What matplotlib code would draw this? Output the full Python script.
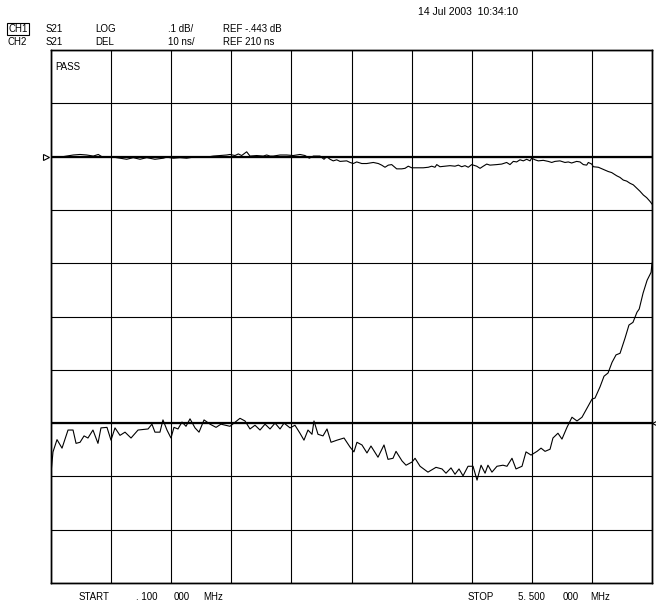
import matplotlib.pyplot as plt
import matplotlib.transforms as mtransforms

# CH1: S21 LOG magnitude (dB)
ch1_freq = [0.100, 0.151, 0.211, 0.300, 0.361, 0.421, 0.480, 0.525, 0.556, 0.630,
            0.720, 0.780, 0.839, 0.900, 0.960, 1.034, 1.109, 1.140, 1.199, 1.259,
            1.319, 1.379, 1.439, 1.499, 1.558, 1.618, 1.679, 1.708, 1.753, 1.783,
            1.813, 1.858, 1.888, 1.948, 2.007, 2.038, 2.068, 2.097, 2.158, 2.218,
            2.277, 2.337, 2.382, 2.421, 2.457, 2.517, 2.553, 2.577, 2.607, 2.636,
            2.667, 2.697, 2.757, 2.787, 2.816, 2.847, 2.892, 2.937, 2.996, 3.041,
            3.071, 3.101, 3.131, 3.161, 3.206, 3.251, 3.281, 3.310, 3.341, 3.386,
            3.445, 3.490, 3.521, 3.550, 3.566, 3.595, 3.640, 3.685, 3.730, 3.760,
            3.790, 3.820, 3.849, 3.880, 3.925, 3.955, 3.984, 4.015, 4.044, 4.105,
            4.150, 4.194, 4.224, 4.254, 4.284, 4.314, 4.344, 4.374, 4.404, 4.419,
            4.449, 4.478, 4.523, 4.568, 4.599, 4.628, 4.673, 4.718, 4.748, 4.778,
            4.823, 4.853, 4.883, 4.913, 4.928, 4.958, 4.973, 5.018, 5.062, 5.107,
            5.138, 5.183, 5.212, 5.242, 5.273, 5.302, 5.332, 5.362, 5.392, 5.422,
            5.452, 5.482, 5.500]
ch1_db = [-0.444, -0.443, -0.443, -0.440, -0.439, -0.440, -0.442, -0.439, -0.443, -0.443,
          -0.446, -0.448, -0.445, -0.448, -0.445, -0.448, -0.446, -0.444, -0.446, -0.445,
          -0.446, -0.444, -0.443, -0.444, -0.442, -0.441, -0.440, -0.439, -0.441, -0.438,
          -0.441, -0.434, -0.442, -0.441, -0.442, -0.440, -0.442, -0.442, -0.440, -0.440,
          -0.441, -0.439, -0.441, -0.446, -0.442, -0.442, -0.448, -0.443, -0.448, -0.451,
          -0.449, -0.452, -0.451, -0.454, -0.456, -0.453, -0.456, -0.456, -0.454, -0.456,
          -0.459, -0.463, -0.459, -0.458, -0.466, -0.466, -0.465, -0.461, -0.464, -0.464,
          -0.464, -0.463, -0.461, -0.463, -0.458, -0.462, -0.461, -0.460, -0.461, -0.459,
          -0.462, -0.460, -0.463, -0.458, -0.461, -0.465, -0.461, -0.457, -0.459, -0.458,
          -0.457, -0.454, -0.458, -0.452, -0.453, -0.449, -0.451, -0.448, -0.451, -0.446,
          -0.449, -0.451, -0.450, -0.452, -0.454, -0.452, -0.451, -0.454, -0.453, -0.455,
          -0.452, -0.453, -0.458, -0.459, -0.454, -0.457, -0.462, -0.463, -0.467, -0.471,
          -0.473, -0.479, -0.482, -0.487, -0.489, -0.493, -0.496, -0.502, -0.508, -0.515,
          -0.520, -0.527, -0.532]

# CH2: S21 group delay (ns)
ch2_freq = [0.100, 0.118, 0.154, 0.199, 0.253, 0.298, 0.325, 0.361, 0.397, 0.432,
            0.477, 0.522, 0.549, 0.603, 0.639, 0.675, 0.720, 0.765, 0.819, 0.882,
            0.972, 1.007, 1.034, 1.079, 1.106, 1.142, 1.178, 1.205, 1.241, 1.277,
            1.313, 1.349, 1.394, 1.430, 1.475, 1.529, 1.583, 1.627, 1.708, 1.744,
            1.798, 1.843, 1.888, 1.933, 1.978, 2.023, 2.068, 2.113, 2.158, 2.194,
            2.248, 2.292, 2.337, 2.373, 2.409, 2.445, 2.463, 2.499, 2.544, 2.580,
            2.616, 2.670, 2.733, 2.787, 2.822, 2.849, 2.894, 2.939, 2.975, 3.038,
            3.092, 3.128, 3.173, 3.200, 3.254, 3.290, 3.344, 3.371, 3.416, 3.487,
            3.559, 3.613, 3.649, 3.694, 3.730, 3.766, 3.802, 3.847, 3.892, 3.928,
            3.964, 4.000, 4.026, 4.062, 4.107, 4.161, 4.197, 4.242, 4.278, 4.332,
            4.368, 4.413, 4.467, 4.503, 4.539, 4.584, 4.610, 4.655, 4.691, 4.736,
            4.781, 4.826, 4.871, 4.916, 4.961, 4.988, 5.033, 5.069, 5.105, 5.141,
            5.177, 5.213, 5.257, 5.293, 5.329, 5.365, 5.385, 5.420, 5.456, 5.492,
            5.500]
ch2_ns = [200.6, 204.6, 206.9, 205.3, 208.7, 208.7, 206.2, 206.4, 207.6, 207.2,
          208.7, 206.2, 209.1, 209.2, 206.8, 209.1, 207.7, 208.3, 207.2, 208.7,
          208.9, 209.8, 208.3, 208.3, 210.6, 208.7, 207.2, 209.2, 208.9, 210.2,
          209.4, 210.8, 209.1, 208.3, 210.6, 209.8, 209.2, 209.8, 209.4, 210.0,
          210.9, 210.4, 208.9, 209.6, 208.7, 209.8, 208.9, 210.0, 208.9, 210.0,
          209.1, 209.6, 208.1, 206.8, 208.7, 207.9, 210.4, 207.9, 207.6, 208.9,
          206.4, 206.8, 207.2, 205.5, 204.6, 206.4, 205.9, 204.4, 205.7, 203.6,
          205.9, 203.2, 203.4, 204.7, 202.9, 202.1, 202.7, 203.4, 201.9, 200.8,
          201.7, 201.4, 200.6, 201.6, 200.4, 201.4, 200.1, 201.9, 201.9, 199.3,
          202.1, 200.6, 202.1, 200.8, 201.9, 202.1, 201.9, 203.4, 201.4, 201.9,
          204.6, 204.0, 204.7, 205.3, 204.7, 205.1, 207.2, 208.1, 207.0, 209.2,
          211.1, 210.4, 211.1, 212.8, 214.5, 214.7, 216.8, 218.8, 219.4, 221.4,
          222.8, 223.1, 225.9, 228.4, 228.9, 230.8, 231.4, 234.4, 236.8, 238.3,
          240.0]

start_mhz, stop_mhz = 0.1, 5.5
ch1_ref, ch1_scale = -0.443, 0.1   # dB, dB/div
ch2_ref, ch2_scale = 210.0, 10.0   # ns, ns/div
ch1_ref_div, ch2_ref_div = 8, 3    # reference line position (div from bottom)
n_div = 10

W, H = 656, 605
fig = plt.figure(figsize=(W / 100, H / 100), dpi=100)
plt.rcParams['font.family'] = ['Liberation Sans', 'DejaVu Sans']


def fx(x):
    return x / W


def fy(y):
    return 1 - y / H


ax = fig.add_axes([fx(51), fy(583), fx(652) - fx(51), fy(50) - fy(583)])
ax2 = ax.twinx()

ax.set_xlim(start_mhz, stop_mhz)
ax.set_ylim(ch1_ref - ch1_ref_div * ch1_scale, ch1_ref + (n_div - ch1_ref_div) * ch1_scale)
ax2.set_ylim(ch2_ref - ch2_ref_div * ch2_scale, ch2_ref + (n_div - ch2_ref_div) * ch2_scale)

step = (stop_mhz - start_mhz) / n_div
ax.set_xticks([start_mhz + i * step for i in range(n_div + 1)])
ax.set_yticks([ch1_ref + (i - ch1_ref_div) * ch1_scale for i in range(n_div + 1)])
ax.grid(True, color='black', linewidth=0.8)
ax.tick_params(length=0, labelleft=False, labelbottom=False)
ax2.tick_params(length=0, labelright=False)
ax2.set_yticks([])
for a in (ax, ax2):
    for s in a.spines.values():
        s.set_color('black')
        s.set_linewidth(1.0)

ax.axhline(ch1_ref, color='black', linewidth=1.6)
ax2.axhline(ch2_ref, color='black', linewidth=1.6)

ax.plot(ch1_freq, ch1_db, color='black', linewidth=0.8)
ax2.plot(ch2_freq, ch2_ns, color='black', linewidth=0.8)

# reference markers
tr1 = mtransforms.blended_transform_factory(ax.transAxes, ax.transData)
ax.plot([-0.009], [ch1_ref], marker='>', ms=5, mfc='white', mec='black', mew=0.8,
        transform=tr1, clip_on=False)
tr2 = mtransforms.blended_transform_factory(ax2.transAxes, ax2.transData)
ax2.plot([1.005], [ch2_ref], marker='<', ms=5, mfc='white', mec='black', mew=0.8,
         transform=tr2, clip_on=False)

fs = 7
fig.text(fx(418), fy(12), '14 Jul 2003  10:34:10', fontsize=7.5, va='center')
fig.text(fx(8.5), fy(29), 'CH1', fontsize=fs, va='center',
         bbox=dict(boxstyle='square,pad=0.15', fc='none', ec='black', lw=0.8))
rows = [(29, ['S21', 'LOG', '.1 dB/', 'REF -.443 dB']),
        (42, ['S21', 'DEL', '10 ns/', 'REF 210 ns'])]
cols = [46, 95, 168, 223]
for y, labels in rows:
    for x, s in zip(cols, labels):
        fig.text(fx(x), fy(y), s, fontsize=fs, va='center')
fig.text(fx(7.5), fy(42), 'CH2', fontsize=fs, va='center')
fig.text(fx(55), fy(67), 'PASS', fontsize=fs, va='center')

bottom = [(79, 'START'), (136, '. 100'), (174, '000'), (203, 'MHz'),
          (468, 'STOP'), (518, '5. 500'), (563, '000'), (590, 'MHz')]
for x, s in bottom:
    fig.text(fx(x), fy(597), s, fontsize=fs, va='center')

fig.savefig('out.png', dpi=100, facecolor='white')
